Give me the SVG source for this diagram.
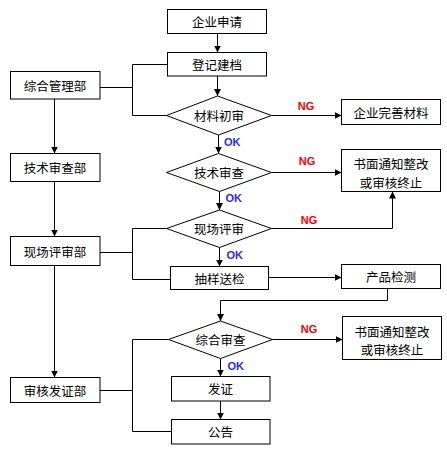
<svg xmlns="http://www.w3.org/2000/svg" width="447" height="450" viewBox="0 0 447 450">
<style>
.box{fill:#fff;stroke:#000;stroke-width:1}
.dia{fill:#fff;stroke:#000;stroke-width:1}
.t{font-family:"Noto Sans CJK SC","Noto Sans",sans-serif;font-size:12.5px;fill:#000;text-anchor:middle;dominant-baseline:central}
.ng{font-family:"Liberation Sans",Arial,sans-serif;font-size:11px;font-weight:bold;fill:#ff0000}
.ok{font-family:"Liberation Sans",Arial,sans-serif;font-size:11px;font-weight:bold;fill:#2a2aee}
.c{fill:none;stroke:#000;stroke-width:1}
.a{marker-end:url(#arr)}
</style>
<defs>
<marker id="arr" markerUnits="userSpaceOnUse" markerWidth="7" markerHeight="7" refX="7" refY="3.5" orient="auto">
<path d="M0,0 L7,3.5 L0,7 z" fill="#000"/>
</marker>
</defs>
<rect width="447" height="450" fill="#fff"/>
<g id="connectors">
<path class="c a" d="M217.5,33.5 V52.5"/>
<path class="c a" d="M217.5,76 V96"/>
<path class="c a" d="M218.5,135 V153.5"/>
<path class="c a" d="M219.5,191.5 V210"/>
<path class="c a" d="M219.5,247.5 V266.5"/>
<path class="c a" d="M220.5,358.5 V376.5"/>
<path class="c a" d="M220.5,401 V419.5"/>
<path class="c a" d="M54.5,99 V153.5"/>
<path class="c a" d="M54.5,181.5 V236.5"/>
<path class="c a" d="M54.5,265.5 V377.5"/>
<path class="c" d="M100,87.5 H132.5"/>
<path class="c" d="M167.5,64.5 H132.5 V115.5 H166.5"/>
<path class="c" d="M100,252.5 H132.5"/>
<path class="c" d="M166.5,228.5 H132.5 V279.5 H170.5"/>
<path class="c" d="M100,390.5 H132.5"/>
<path class="c" d="M168.5,339.5 H132.5 V431.5 H171.5"/>
<path class="c a" d="M271.5,115.5 H341.5"/>
<path class="c a" d="M271.5,172.5 H341.5"/>
<path class="c a" d="M271.5,228.5 H392.5 V191.5"/>
<path class="c a" d="M268.5,277.5 H341.5"/>
<path class="c a" d="M387.5,288.5 V300.5 H220.5 V321"/>
<path class="c a" d="M272.5,339.5 H342.5"/>
<text class="ng" x="306" y="110" text-anchor="middle">NG</text>
<text class="ok" x="224" y="145.5">OK</text>
<text class="ng" x="307" y="164.5" text-anchor="middle">NG</text>
<text class="ok" x="225.5" y="201.5">OK</text>
<text class="ng" x="309" y="223.5" text-anchor="middle">NG</text>
<text class="ok" x="226.5" y="258.5">OK</text>
<text class="ng" x="309" y="332.5" text-anchor="middle">NG</text>
<text class="ok" x="227.5" y="369.5">OK</text>
</g>
<g id="n-apply"><rect class="box" x="167.5" y="9.5" width="99" height="24"/><text class="t" x="217" y="21.5">企业申请</text></g>
<g id="n-register"><rect class="box" x="167.5" y="52.5" width="99" height="23.5"/><text class="t" x="217" y="64.5">登记建档</text></g>
<g id="n-dept1"><rect class="box" x="10.5" y="71.5" width="89.5" height="27.5"/><text class="t" x="55" y="85.5">综合管理部</text></g>
<g id="n-check1"><polygon class="dia" points="166.5,115.5 217.5,96 271.5,115.5 218.5,135"/><text class="t" x="219" y="115.5">材料初审</text></g>
<g id="n-improve"><rect class="box" x="341.5" y="99.5" width="99" height="25"/><text class="t" x="391" y="112">企业完善材料</text></g>
<g id="n-dept2"><rect class="box" x="10.5" y="153.5" width="89.5" height="28"/><text class="t" x="55" y="167.5">技术审查部</text></g>
<g id="n-check2"><polygon class="dia" points="166.5,172.5 218.5,153.5 271.5,172.5 219.5,191.5"/><text class="t" x="219" y="172.5">技术审查</text></g>
<g id="n-notice1"><rect class="box" x="341.5" y="149.5" width="99" height="42"/><text class="t" x="391" y="163.5">书面通知整改</text><text class="t" x="391" y="182">或审核终止</text></g>
<g id="n-check3"><polygon class="dia" points="166.5,228.5 219.5,210 271.5,228.5 219.5,247.5"/><text class="t" x="219" y="228.5">现场评审</text></g>
<g id="n-dept3"><rect class="box" x="10.5" y="236.5" width="89.5" height="29"/><text class="t" x="55" y="251">现场评审部</text></g>
<g id="n-sample"><rect class="box" x="170.5" y="266.5" width="98" height="23"/><text class="t" x="219.5" y="278">抽样送检</text></g>
<g id="n-test"><rect class="box" x="341.5" y="264.5" width="99" height="24"/><text class="t" x="391" y="276.5">产品检测</text></g>
<g id="n-check4"><polygon class="dia" points="168.5,339.5 220.5,321 272.5,339.5 220.5,358.5"/><text class="t" x="220.5" y="339.5">综合审查</text></g>
<g id="n-notice2"><rect class="box" x="342.5" y="316.5" width="99" height="43"/><text class="t" x="392" y="331.5">书面通知整改</text><text class="t" x="392" y="349.5">或审核终止</text></g>
<g id="n-dept4"><rect class="box" x="10.5" y="377.5" width="89.5" height="25"/><text class="t" x="55" y="390">审核发证部</text></g>
<g id="n-cert"><rect class="box" x="171.5" y="376.5" width="98.5" height="24.5"/><text class="t" x="220.5" y="388.5">发证</text></g>
<g id="n-publish"><rect class="box" x="171.5" y="419.5" width="98.5" height="24.5"/><text class="t" x="220.5" y="431.5">公告</text></g>
</svg>
